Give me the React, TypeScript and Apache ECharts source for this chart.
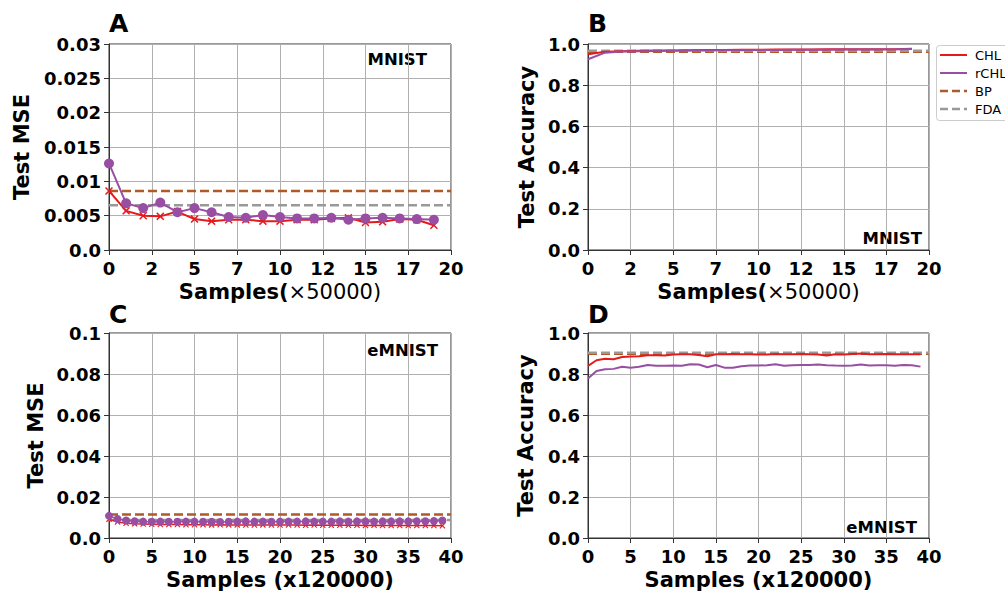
import React, { useEffect, useRef } from "react";
import * as echarts from "echarts";

// ---- data ----
const xA = [0, 1, 2, 3, 4, 5, 6, 7, 8, 9, 10, 11, 12, 13, 14, 15, 16, 17, 18, 19];
const xC = [0, 1, 2, 3, 4, 5, 6, 7, 8, 9, 10, 11, 12, 13, 14, 15, 16, 17, 18, 19,
  20, 21, 22, 23, 24, 25, 26, 27, 28, 29, 30, 31, 32, 33, 34, 35, 36, 37, 38, 39];

const chlMseMnist = [0.0086, 0.0057, 0.0050, 0.0049, 0.0056, 0.0045, 0.0042, 0.0044, 0.0044, 0.0042,
  0.0042, 0.0044, 0.0044, 0.0046, 0.0047, 0.0040, 0.0041, 0.0045, 0.0044, 0.0036];
const rchlMseMnist = [0.0126, 0.0068, 0.0061, 0.0069, 0.0055, 0.0061, 0.0055, 0.0048, 0.0047, 0.0051,
  0.0048, 0.0046, 0.0046, 0.0047, 0.0044, 0.0046, 0.0047, 0.0046, 0.0045, 0.0044];
const bpMseMnist = 0.0086;
const fdaMseMnist = 0.0065;

const chlAccMnist = [0.950, 0.962, 0.965, 0.967, 0.968, 0.969, 0.970, 0.971, 0.971, 0.972,
  0.972, 0.973, 0.973, 0.973, 0.974, 0.974, 0.975, 0.975, 0.975, 0.977];
const rchlAccMnist = [0.926, 0.958, 0.963, 0.965, 0.966, 0.967, 0.968, 0.969, 0.970, 0.970,
  0.971, 0.971, 0.972, 0.972, 0.972, 0.973, 0.973, 0.973, 0.974, 0.976];
const bpAccMnist = 0.962;
const fdaAccMnist = 0.967;

const chlMseEmnist = [0.0092, 0.0078, 0.0072, 0.0069, 0.0068, 0.0067, 0.0066, 0.0066, 0.0066, 0.0065,
  0.0065, 0.0065, 0.0064, 0.0065, 0.0064, 0.0064, 0.0063, 0.0063, 0.0064, 0.0063,
  0.0063, 0.0063, 0.0063, 0.0062, 0.0063, 0.0062, 0.0062, 0.0062, 0.0062, 0.0062,
  0.0061, 0.0062, 0.0061, 0.0061, 0.0061, 0.0061, 0.0061, 0.0061, 0.0061, 0.0060];
const rchlMseEmnist = [0.0108, 0.0093, 0.0085, 0.0082, 0.0080, 0.0079, 0.0080, 0.0079, 0.0079, 0.0080,
  0.0080, 0.0079, 0.0079, 0.0078, 0.0079, 0.0080, 0.0081, 0.0080, 0.0080, 0.0079,
  0.0080, 0.0080, 0.0080, 0.0081, 0.0080, 0.0080, 0.0080, 0.0081, 0.0080, 0.0081,
  0.0081, 0.0080, 0.0081, 0.0081, 0.0081, 0.0081, 0.0082, 0.0082, 0.0083, 0.0085];
const bpMseEmnist = 0.0115;
const fdaMseEmnist = 0.0088;

const chlAccEmnist = [0.840, 0.867, 0.874, 0.872, 0.883, 0.885, 0.887, 0.891, 0.891, 0.890,
  0.895, 0.896, 0.896, 0.893, 0.887, 0.896, 0.896, 0.898, 0.896, 0.896,
  0.895, 0.895, 0.898, 0.896, 0.896, 0.898, 0.896, 0.895, 0.890, 0.896,
  0.895, 0.898, 0.900, 0.896, 0.896, 0.898, 0.896, 0.896, 0.896, 0.896];
const rchlAccEmnist = [0.778, 0.815, 0.823, 0.825, 0.835, 0.831, 0.835, 0.844, 0.840, 0.840,
  0.841, 0.840, 0.848, 0.846, 0.833, 0.844, 0.831, 0.831, 0.838, 0.841,
  0.841, 0.843, 0.848, 0.840, 0.843, 0.844, 0.844, 0.846, 0.843, 0.841,
  0.840, 0.841, 0.846, 0.841, 0.843, 0.843, 0.840, 0.844, 0.843, 0.836];
const bpAccEmnist = 0.899;
const fdaAccEmnist = 0.904;

const legendNames = ["CHL", "rCHL", "BP", "FDA"];

// ---- style ----
const FONT = "DejaVu Sans";
const RED = "#e41a1c";
const PURPLE = "#984ea3";
const BROWN = "#b05a2a";
const GRAY = "#999999";
const legendColors = [RED, PURPLE, BROWN, GRAY];
const legendDashed = [false, false, true, true];
const X_SYMBOL =
  "path://M0,1.3L1.3,0L5,3.7L8.7,0L10,1.3L6.3,5L10,8.7L8.7,10L5,6.3L1.3,10L0,8.7L3.7,5Z";

const zip = (xs: number[], ys: number[]) => xs.map((x, i) => [x, ys[i]]);

function makeXAxis(gridIndex: number, max: number, interval: number, name: string, rich: boolean) {
  return {
    type: "value",
    gridIndex,
    min: 0,
    max,
    interval,
    name,
    nameLocation: "middle",
    nameGap: 31,
    nameTextStyle: rich
      ? {
          rich: {
            b: { fontFamily: FONT, fontWeight: "bold", fontSize: 21, color: "#000" },
            n: { fontFamily: FONT, fontWeight: "normal", fontSize: 21, color: "#000" },
          },
        }
      : { fontFamily: FONT, fontWeight: "bold", fontSize: 21, color: "#000" },
    axisLine: { show: true, lineStyle: { color: "#333", width: 1 } },
    axisTick: { show: true, length: 5, lineStyle: { color: "#333" } },
    axisLabel: {
      fontFamily: FONT,
      fontWeight: "bold",
      fontSize: 18,
      color: "#000",
      margin: 9,
      showMinLabel: true,
      showMaxLabel: true,
      formatter: (v: number) => String(Math.floor(v + 1e-9)),
    },
    splitLine: { show: true, lineStyle: { color: "#b0b0b0", width: 1 } },
  };
}

function makeYAxis(gridIndex: number, max: number, interval: number, name: string, gap: number, fmt: (v: number) => string) {
  return {
    type: "value",
    gridIndex,
    min: 0,
    max,
    interval,
    name,
    nameLocation: "middle",
    nameGap: gap,
    nameTextStyle: { fontFamily: FONT, fontWeight: "bold", fontSize: 21, color: "#000" },
    axisLine: { show: true, lineStyle: { color: "#333", width: 1 } },
    axisTick: { show: true, length: 5, lineStyle: { color: "#333" } },
    axisLabel: {
      fontFamily: FONT,
      fontWeight: "bold",
      fontSize: 18,
      color: "#000",
      margin: 8,
      showMinLabel: true,
      showMaxLabel: true,
      formatter: fmt,
    },
    splitLine: { show: true, lineStyle: { color: "#b0b0b0", width: 1 } },
  };
}

function hline(name: string, idx: number, xmax: number, v: number, color: string) {
  return {
    name,
    type: "line",
    xAxisIndex: idx,
    yAxisIndex: idx,
    data: [[0, v], [xmax, v]],
    symbol: "none",
    lineStyle: { color, width: 2.5, type: [9, 4] },
    itemStyle: { color },
    silent: true,
  };
}

function dataLine(name: string, idx: number, xs: number[], ys: number[], color: string, symbol: string, size: number, width: number) {
  return {
    name,
    type: "line",
    xAxisIndex: idx,
    yAxisIndex: idx,
    data: zip(xs, ys),
    symbol,
    symbolSize: size,
    showSymbol: symbol !== "none",
    lineStyle: { color, width },
    itemStyle: { color, opacity: 1 },
  };
}

const fmtA = (v: number) => (v === 0 ? "0.0" : String(+v.toFixed(3)));
const fmtC = (v: number) => (v === 0 ? "0.0" : String(+v.toFixed(2)));
const fmtAcc = (v: number) => v.toFixed(1);

const gridBase = { show: true, borderColor: "#333", borderWidth: 1, backgroundColor: "transparent" };

function label(text: string, x: number, y: number, size: number, align: string) {
  return {
    type: "text",
    x,
    y,
    style: {
      text,
      fontFamily: FONT,
      fontWeight: "bold",
      fontSize: size,
      fill: "#000",
      align,
      verticalAlign: "middle",
    },
  };
}

function legendGraphic() {
  const items: any[] = [
    {
      type: "rect",
      shape: { x: 936.5, y: 45.5, width: 80, height: 75, r: 3 },
      style: { fill: "#ffffff", stroke: "#cccccc", lineWidth: 1 },
    },
  ];
  legendNames.forEach((n, i) => {
    const y = 55 + i * 18;
    items.push({
      type: "line",
      shape: { x1: 940, y1: y, x2: 967, y2: y },
      style: {
        stroke: legendColors[i],
        lineWidth: legendDashed[i] ? 2.5 : 2,
        lineDash: legendDashed[i] ? [8, 4] : null,
      },
    });
    items.push({
      type: "text",
      x: 975,
      y,
      style: {
        text: n,
        fontFamily: FONT,
        fontSize: 13,
        fill: "#000",
        align: "left",
        verticalAlign: "middle",
      },
    });
  });
  return { type: "group", children: items };
}

export default function App() {
  const ref = useRef<HTMLDivElement>(null);
  useEffect(() => {
    document.body.style.margin = "0";
    if (!ref.current) return;
    const chart = echarts.init(ref.current, null, { renderer: "svg" });
    const option: any = {
      animation: false,
      backgroundColor: "#ffffff",
      textStyle: { fontFamily: FONT },
      grid: [
        { ...gridBase, left: 109, top: 44, width: 342, height: 206 },
        { ...gridBase, left: 588, top: 44, width: 341, height: 206 },
        { ...gridBase, left: 109, top: 333, width: 342, height: 205 },
        { ...gridBase, left: 588, top: 333, width: 341, height: 205 },
      ],
      xAxis: [
        makeXAxis(0, 20, 2.5, "{b|Samples(}{n|×50000)}", true),
        makeXAxis(1, 20, 2.5, "{b|Samples(}{n|×50000)}", true),
        makeXAxis(2, 40, 5, "Samples (x120000)", false),
        makeXAxis(3, 40, 5, "Samples (x120000)", false),
      ],
      yAxis: [
        makeYAxis(0, 0.03, 0.005, "Test MSE", 77, fmtA),
        makeYAxis(1, 1.0, 0.2, "Test Accuracy", 51, fmtAcc),
        makeYAxis(2, 0.1, 0.02, "Test MSE", 63, fmtC),
        makeYAxis(3, 1.0, 0.2, "Test Accuracy", 52, fmtAcc),
      ],
      series: [
        // A
        hline("BP", 0, 20, bpMseMnist, BROWN),
        hline("FDA", 0, 20, fdaMseMnist, GRAY),
        dataLine("CHL", 0, xA, chlMseMnist, RED, X_SYMBOL, 8, 2),
        dataLine("rCHL", 0, xA, rchlMseMnist, PURPLE, "circle", 10, 2),
        // B
        hline("BP", 1, 20, bpAccMnist, BROWN),
        hline("FDA", 1, 20, fdaAccMnist, GRAY),
        dataLine("CHL", 1, xA, chlAccMnist, RED, "none", 0, 2),
        dataLine("rCHL", 1, xA, rchlAccMnist, PURPLE, "none", 0, 2),
        // C
        hline("BP", 2, 40, bpMseEmnist, BROWN),
        hline("FDA", 2, 40, fdaMseEmnist, GRAY),
        dataLine("CHL", 2, xC, chlMseEmnist, RED, X_SYMBOL, 6, 1.5),
        dataLine("rCHL", 2, xC, rchlMseEmnist, PURPLE, "circle", 8, 1.5),
        // D
        hline("BP", 3, 40, bpAccEmnist, BROWN),
        hline("FDA", 3, 40, fdaAccEmnist, GRAY),
        dataLine("CHL", 3, xC, chlAccEmnist, RED, "none", 0, 2),
        dataLine("rCHL", 3, xC, rchlAccEmnist, PURPLE, "none", 0, 2),
      ],
      graphic: [
        label("A", 109, 23, 25, "left"),
        label("B", 588, 23, 25, "left"),
        label("C", 109, 314, 25, "left"),
        label("D", 588, 314, 25, "left"),
        label("MNIST", 427, 59, 16.5, "right"),
        label("MNIST", 922, 238, 16.5, "right"),
        label("eMNIST", 438, 350, 16.5, "right"),
        label("eMNIST", 917, 527, 16.5, "right"),
        legendGraphic(),
      ],
    };
    chart.setOption(option);
    return () => chart.dispose();
  }, []);
  return <div ref={ref} style={{ width: 1005, height: 594 }} />;
}
